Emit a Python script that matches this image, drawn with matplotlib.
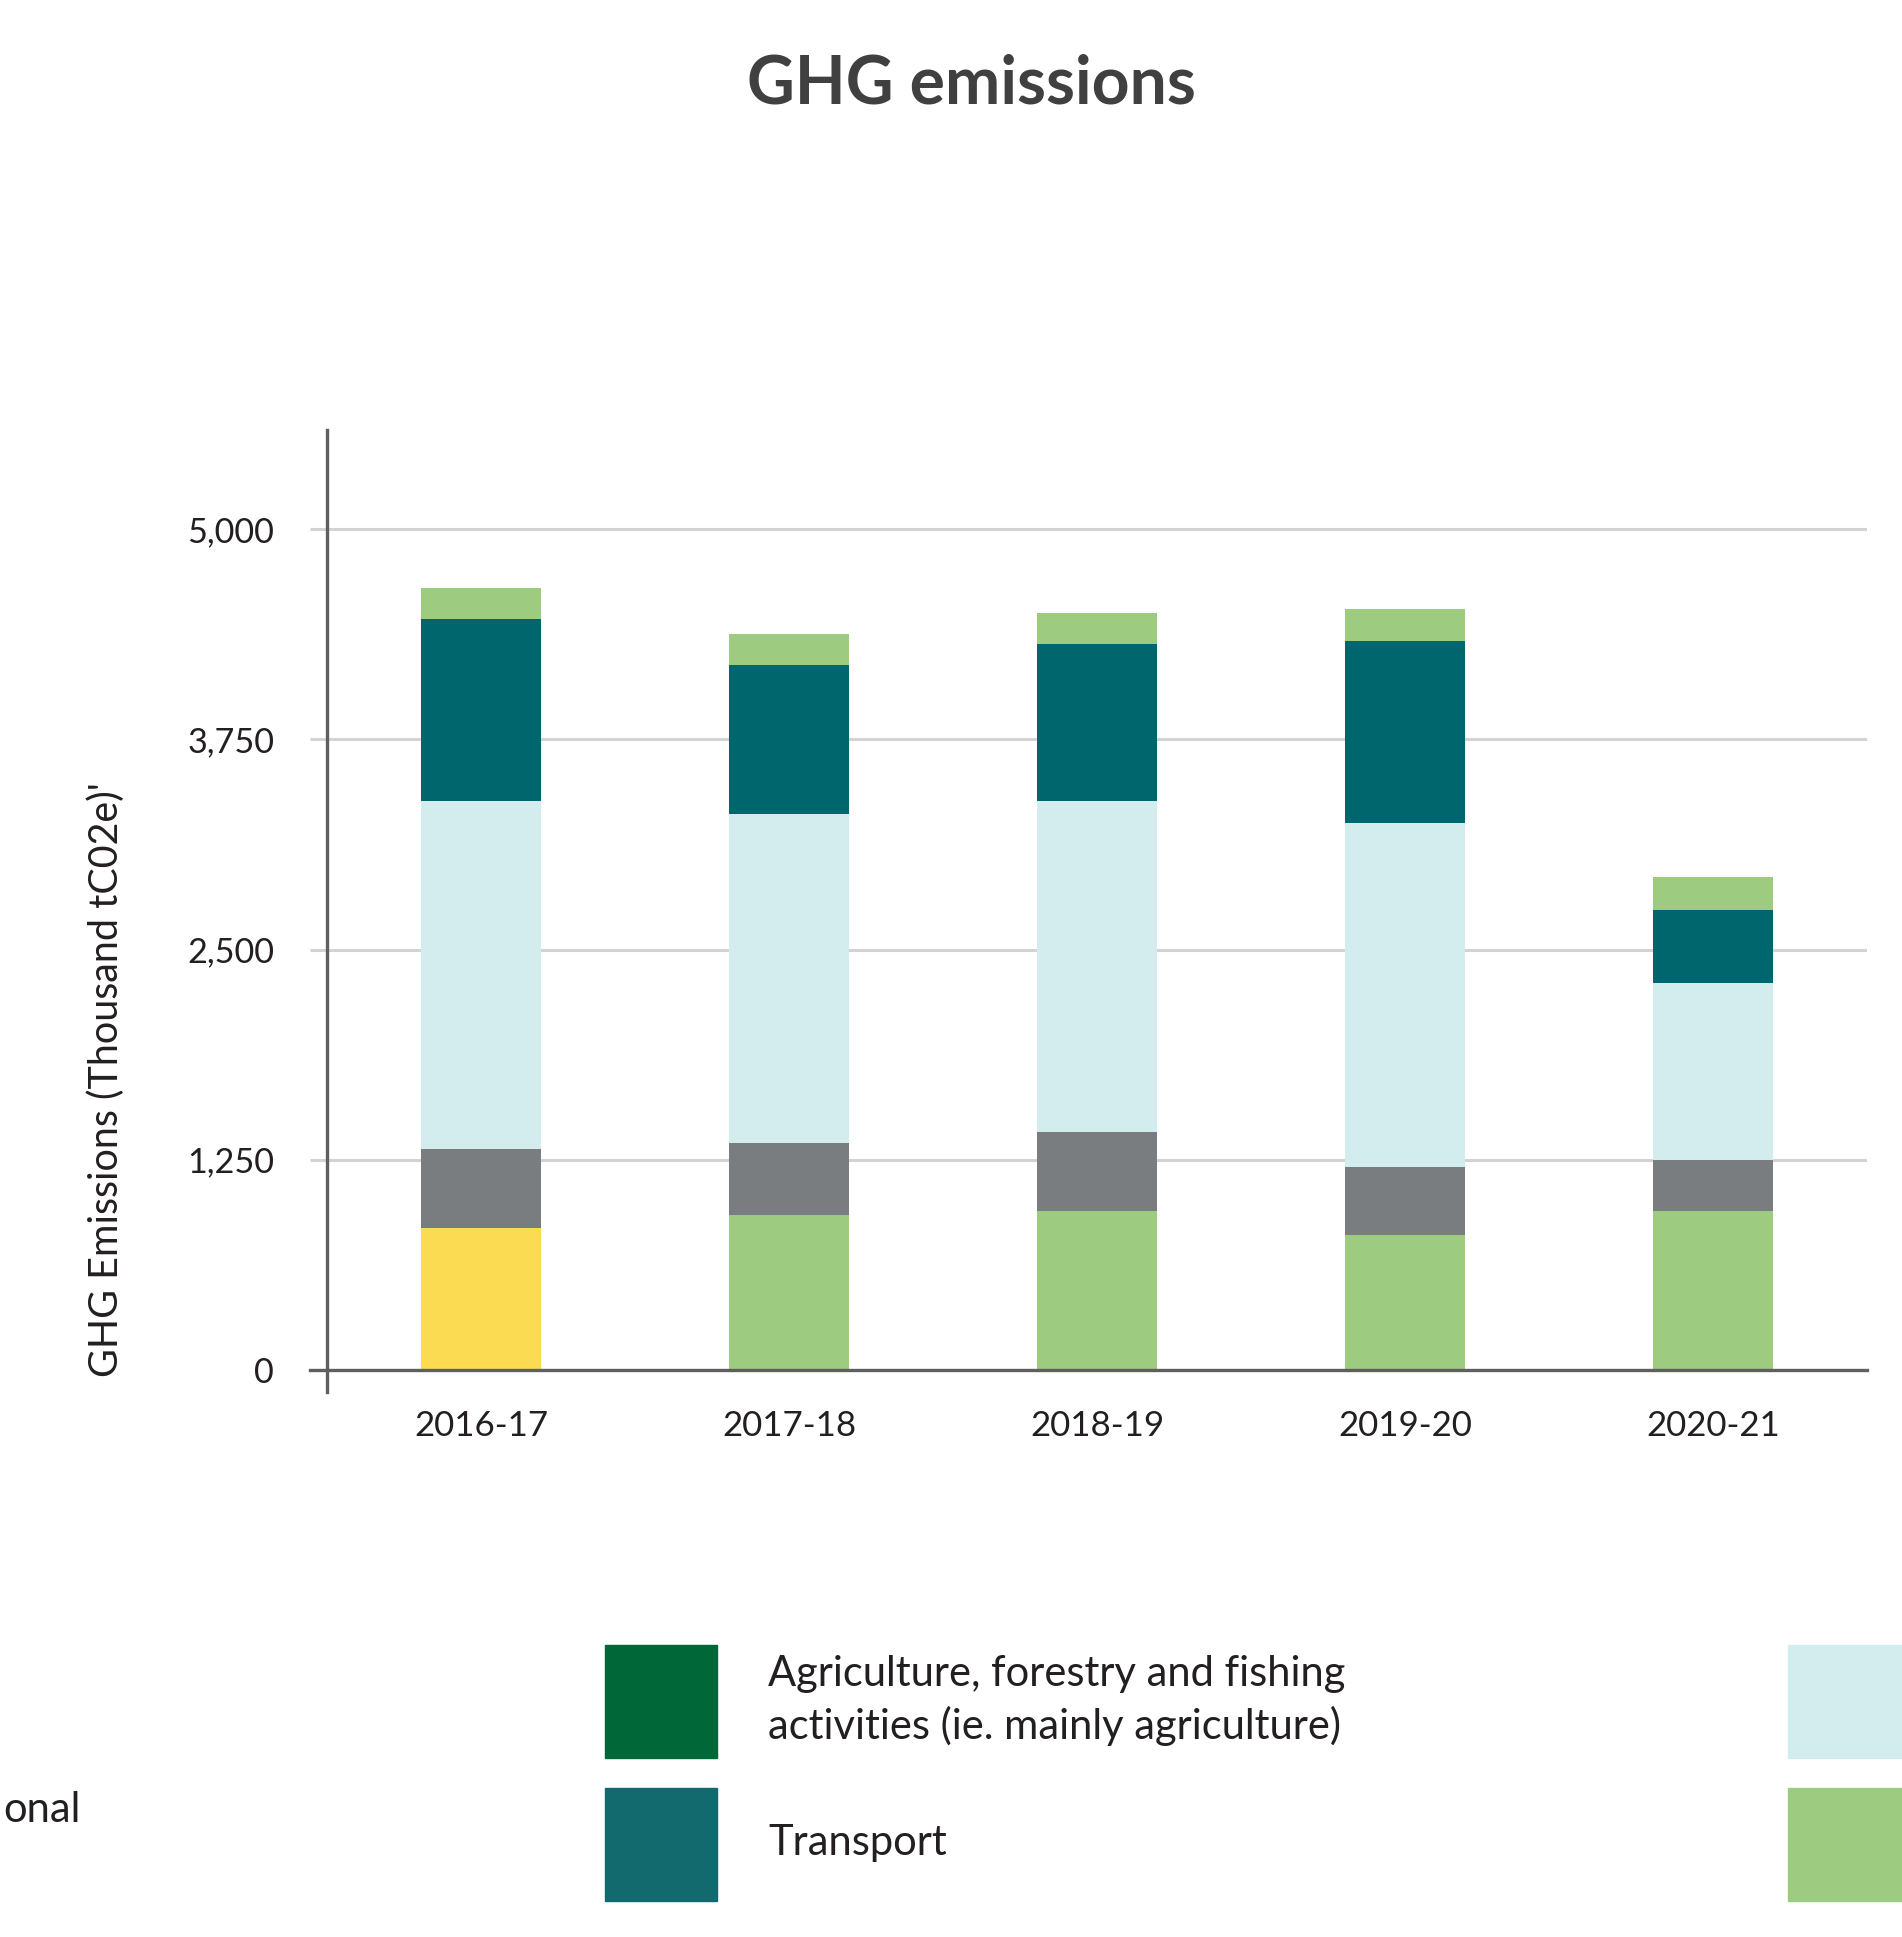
import numpy as np
import matplotlib.pyplot as plt
from matplotlib.patches import Rectangle

# the original uses a condensed face; take a narrow one if present
plt.rcParams['font.family'] = ['Liberation Sans Narrow', 'DejaVu Sans Condensed', 'Lato', 'DejaVu Sans']

years = ['2016-17', '2017-18', '2018-19', '2019-20', '2020-21']

# stacked segments, bottom to top (thousand tCO2e)
base = [844, 922, 943, 803, 945]
grey_part = [469, 428, 470, 403, 304]
light_blue_part = [2071, 1955, 1970, 2046, 1052]
transport = [1082, 888, 934, 1081, 434]
top_part = [183, 183, 183, 191, 196]

base_colors = ['#fbdb52', '#9dcb80', '#9dcb80', '#9dcb80', '#9dcb80']
seg_colors = ['#7a7d80', '#d3ecee', '#00666e', '#9dcb80']

yticks = [0, 1250, 2500, 3750, 5000]

# legend (only part of it is inside the crop)
leg_mid_labels = ['Agriculture, forestry and fishing', 'activities (ie. mainly agriculture)', 'Transport']
leg_mid_colors = ['#006838', '#12696e']
leg_right_colors = ['#d3ecee', '#9dcb80']
leg_left_text = 'onal'

W, H = 1902, 1937
fig = plt.figure(figsize=(W / 100, H / 100), dpi=100)
ax = fig.add_axes([327 / W, 1 - 1370 / H, 1540 / W, 940 / H])

x = np.arange(len(years))
bw = 0.39
ax.bar(x, base, bw, color=base_colors, zorder=3)
bottom = np.array(base, dtype=float)
for vals, c in zip([grey_part, light_blue_part, transport, top_part], seg_colors):
    ax.bar(x, vals, bw, bottom=bottom, color=c, zorder=3)
    bottom += vals

ax.set_xlim(-0.5, 4.5)
ax.set_ylim(0, 5589)
ax.set_xticks(x)
ax.set_xticklabels(years)
ax.set_yticks(yticks)
ax.set_yticklabels([f'{v:,}' for v in yticks])
ax.yaxis.grid(True, color='#d3d3d3', lw=2.2)
ax.set_axisbelow(True)
ax.tick_params(axis='y', length=12, width=2.2, color='#d3d3d3', pad=26,
               labelsize=28, labelcolor='#231f20')
ax.tick_params(axis='x', length=0, pad=29, labelsize=28, labelcolor='#231f20')
for s in ax.spines.values():
    s.set_visible(False)
ax.axvline(-0.5, ymin=-22 / 940, ymax=1, color='#5f5f5f', lw=2.4, clip_on=False, zorder=4)
ax.axhline(0, xmin=-17 / 1540, xmax=1, color='#5f5f5f', lw=2.4, clip_on=False, zorder=4)

ylab = ax.set_ylabel("GHG Emissions (Thousand tC02e)'", fontsize=31, color='#231f20')
ax.yaxis.label.set_va('baseline')
ax.yaxis.set_label_coords(-0.1357, 0.309)

title = fig.text(971 / W, 1 - 84 / H, 'GHG emissions', ha='center', va='center',
                 fontsize=50, weight='bold', color='#404040')

# legend drawn by hand so it can run off the edges like the reference
rows_top = [1645, 1788]
box = 113
for top, c in zip(rows_top, leg_mid_colors):
    fig.add_artist(Rectangle((605 / W, 1 - (top + box) / H), 112 / W, box / H,
                             color=c, transform=fig.transFigure))
for top, c in zip(rows_top, leg_right_colors):
    fig.add_artist(Rectangle((1788 / W, 1 - (top + box) / H), 114 / W, box / H,
                             color=c, transform=fig.transFigure))
leg_texts = []
for lab, base_y in zip(leg_mid_labels, [1686, 1739, 1855]):
    leg_texts.append(fig.text(768 / W, 1 - base_y / H, lab, fontsize=33,
                              va='baseline', color='#231f20'))
# leftover tail of the left legend column, kept just inside the edge
leg_texts.append(fig.text(3 / W, 1 - 1822 / H, leg_left_text, fontsize=33,
                          va='baseline', ha='left', color='#231f20'))

# size the text so the widths come close to the condensed original
fig.canvas.draw()
r = fig.canvas.get_renderer()


def fitted(t, target, cap, horizontal=True):
    bb = t.get_window_extent(r)
    w = bb.width if horizontal else bb.height
    return min(t.get_fontsize() * target / w * 1.12, cap)


ax.tick_params(axis='y', labelsize=fitted(ax.get_yticklabels()[-1], 78, 30))
ax.tick_params(axis='x', labelsize=fitted(ax.get_xticklabels()[0], 120, 31))
ylab.set_fontsize(fitted(ylab, 530, 33, horizontal=False))
title.set_fontsize(fitted(title, 402, 55))
ls = fitted(leg_texts[0], 517, 36)
for t in leg_texts:
    t.set_fontsize(ls)

fig.savefig('out.png', dpi=100)
